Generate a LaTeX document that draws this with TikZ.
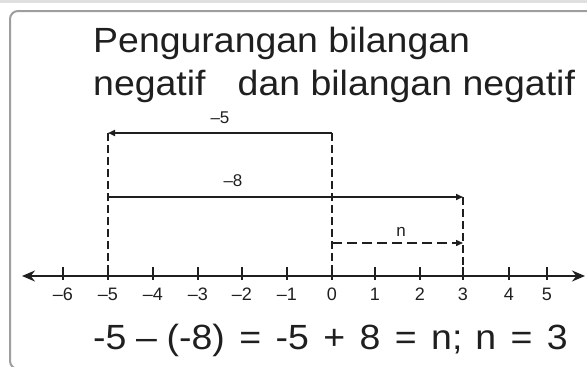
\documentclass[tikz,border=0pt]{standalone}
\usepackage{graphicx}
\usepackage{fontspec}
\setmainfont{Liberation Sans}
\usetikzlibrary{arrows.meta}
\definecolor{framec}{gray}{0.62}
\definecolor{stripc}{gray}{0.88}
\definecolor{inkc}{gray}{0.12}
\newcommand{\wx}[1]{\scalebox{1.07}[1]{#1}}
\newcommand{\spS}{\hspace{9pt}}
\newcommand{\spL}{\hspace{13.5pt}}
\newcommand{\spM}{\hspace{12pt}}
\begin{document}
\begin{tikzpicture}[x=1pt,y=-1pt,
  numline/.style={line width=1.6pt, draw=inkc, {Stealth[length=13pt,width=11pt]}-{Stealth[length=13pt,width=11pt]}},
  tickmark/.style={line width=1.4pt, draw=inkc},
  ticklab/.style={font=\fontsize{18}{20}\selectfont, anchor=base, inner sep=0pt, text=inkc},
  arrlab/.style={font=\fontsize{17}{19}\selectfont, anchor=base, inner sep=0pt, text=inkc},
  jump/.style={line width=1.6pt, draw=inkc},
  guide/.style={line width=1.4pt, draw=inkc, dash pattern=on 8pt off 4pt},
  smalltip/.style={-{Triangle[length=7pt,width=6pt]}},
  titletext/.style={font=\fontsize{35}{40}\selectfont, anchor=base west, inner sep=0pt, text=inkc},
]
\useasboundingbox (0,0) rectangle (587,367);
% frame
\begin{scope}
  \clip (0,0) rectangle (587,367);
  \fill[stripc] (0,0) rectangle (587,3);
  \draw[framec, line width=2pt, rounded corners=8pt] (10,11) rectangle (640,369);
\end{scope}
% title
\node[titletext] (title1) at (93,52) {\wx{Pengurangan bilangan}};
\node[titletext] (title2) at (93,95) {\wx{negatif\hspace{30pt}dan bilangan negatif}};
% ticks and labels
\foreach \v/\x/\t in {-6/63/–6,-5/108/–5,-4/153/–4,-3/198/–3,-2/242/–2,-1/287/–1,0/332/0,1/375/1,2/420/2,3/463/3,4/509/4,5/547/5}{
  \coordinate (t\v) at (\x,276);
  \draw[tickmark] (\x,267) -- (\x,280);
  \node[ticklab] (lab\v) at (\x,300) {\t};
}
% number line
\coordinate (L) at (22,276);
\coordinate (R) at (585,276);
\draw[numline] (L) -- (R);
% jump points
\coordinate (a1) at (108,133);
\coordinate (b1) at (332,133);
\coordinate (a2) at (108,197);
\coordinate (c2) at (463,197);
\coordinate (b3) at (332,243);
\coordinate (c3) at (463,243);
% guides
\draw[guide] (a1) -- (t-5);
\draw[guide] (b1) -- (t0);
\draw[guide] (c2) -- (t3);
% jumps
\draw[jump, smalltip] (b1) -- (a1);
\draw[jump, smalltip] (a2) -- (c2);
\draw[guide, dash pattern=on 10pt off 5pt, smalltip] (b3) -- (c3);
% jump labels
\node[arrlab] (lm5) at (220,123) {–5};
\node[arrlab] (lm8) at (233,186) {–8};
\node[arrlab] (ln) at (401,236) {n};
% equation
\node[titletext] (eq) at (93,349) {\wx{-5\spS–\spS(-8)\spL=\spL-5\spL+\spL8\spL=\spL n;\spM n\spL=\spL3}};
\end{tikzpicture}
\end{document}
